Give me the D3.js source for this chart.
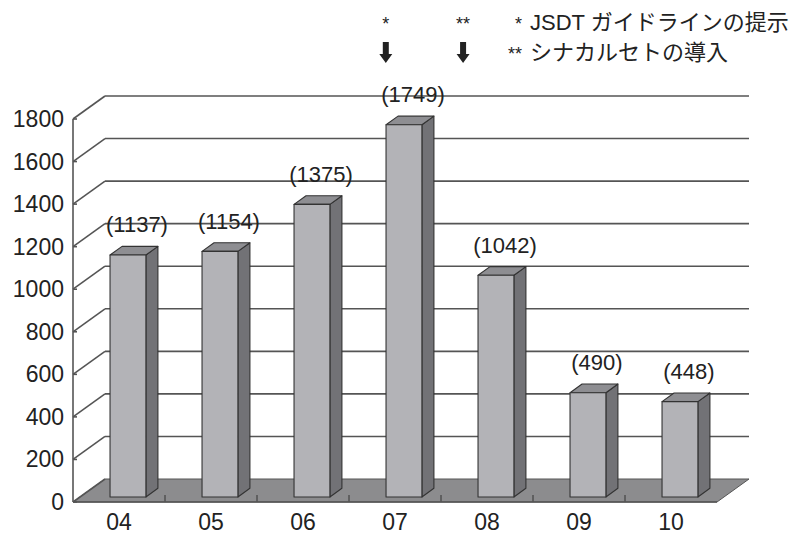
<!DOCTYPE html>
<html>
<head>
<meta charset="utf-8">
<script src="https://cdn.jsdelivr.net/npm/d3@7"></script>
<style>
  html, body { margin: 0; padding: 0; background: #fff; }
  svg { display: block; }
  text { fill: #222; font-family: "Liberation Sans", Arial, "Noto Sans CJK JP", sans-serif; }
</style>
</head>
<body>
<svg id="chart" width="790" height="534"></svg>
<script>
// Yearly counts (label values) per year
const years = ["04", "05", "06", "07", "08", "09", "10"];
const counts = [1137, 1154, 1375, 1749, 1042, 490, 448];
const yTicks = [0, 200, 400, 600, 800, 1000, 1200, 1400, 1600, 1800];
const notes = ["JSDT ガイドラインの提示", "シナカルセトの導入"];
const noteMarks = ["*", "**"];
const markedYears = ["07", "08"]; // years whose columns carry the * / ** arrows

const svg = d3.select("#chart");

// Front plane scales
const x = d3.scaleBand().domain(years).range([73, 717]).padding(0);
const y = d3.scaleLinear().domain([0, 1800]).range([502, 119]);

// Oblique depth projection (depth 0 = front plane, 1 = back wall)
const DX = 32, DY = -23;
const P = (px, py, d) => [px + DX * d, py + DY * d];

const gridColor = "#555";

// Floor
const floor = [P(x.range()[0], y(0), 0), P(x.range()[1], y(0), 0),
               P(x.range()[1], y(0), 1), P(x.range()[0], y(0), 1)];
svg.append("polygon")
  .attr("points", floor.map(p => p.join(",")).join(" "))
  .attr("fill", "#8c8c8e")
  .attr("stroke", "#555").attr("stroke-width", 1);

// Back-wall gridlines and left-wall diagonals
const g = svg.append("g").attr("stroke", gridColor).attr("stroke-width", 1.6).attr("fill", "none");
yTicks.forEach(v => {
  const a = P(x.range()[0], y(v), 0), b = P(x.range()[0], y(v), 1), c = P(x.range()[1], y(v), 1);
  g.append("line").attr("x1", a[0]).attr("y1", a[1]).attr("x2", b[0]).attr("y2", b[1]);
  if (v > 0) g.append("line").attr("x1", b[0]).attr("y1", b[1]).attr("x2", c[0]).attr("y2", c[1]);
  g.append("line").attr("x1", a[0]).attr("y1", a[1]).attr("x2", a[0] + 4).attr("y2", a[1]);
});
// Front vertical axis
g.append("line").attr("x1", x.range()[0]).attr("y1", y(1800)).attr("x2", x.range()[0]).attr("y2", y(0));
// Front horizontal axis with category ticks
g.append("line").attr("x1", x.range()[0]).attr("y1", y(0)).attr("x2", x.range()[1]).attr("y2", y(0));
years.slice(1).forEach(c => {
  g.append("line").attr("x1", x(c)).attr("y1", y(0)).attr("x2", x(c)).attr("y2", y(0) - 7);
});

// Y tick labels
svg.append("g").selectAll("text").data(yTicks).join("text")
  .attr("x", 64).attr("y", d => y(d) + 8)
  .attr("text-anchor", "end").attr("font-size", 23)
  .text(d => d);

// X tick labels
svg.append("g").selectAll("text").data(years).join("text")
  .attr("x", d => x(d) + x.bandwidth() / 2).attr("y", 530)
  .attr("text-anchor", "middle").attr("font-size", 23)
  .text(d => d);

// 3D columns
const d0 = 0.22, d1 = 0.595;               // depth of front and back faces
const bw = x.bandwidth();
const bars = years.map((c, i) => {
  const xl = x(c) + bw * 0.326, xr = xl + bw * 0.39;
  const yt = y(counts[i]), yb = y(0);
  return {
    c, v: counts[i],
    front: [P(xl, yt, d0), P(xr, yt, d0), P(xr, yb, d0), P(xl, yb, d0)],
    side: [P(xr, yt, d0), P(xr, yt, d1), P(xr, yb, d1), P(xr, yb, d0)],
    top: [P(xl, yt, d0), P(xl, yt, d1), P(xr, yt, d1), P(xr, yt, d0)],
    cx: (xl + xr) / 2 + DX * d0 + 9,
    backTop: P(xl, yt, d1)[1]
  };
});
const bg = svg.append("g").attr("stroke", "#333").attr("stroke-width", 1.1).attr("stroke-linejoin", "round");
const pts = a => a.map(p => p.join(",")).join(" ");
bars.forEach(b => {
  bg.append("polygon").attr("points", pts(b.side)).attr("fill", "#727276");
  bg.append("polygon").attr("points", pts(b.top)).attr("fill", "#8e8e92");
  bg.append("polygon").attr("points", pts(b.front)).attr("fill", "#b3b3b7");
});

// Value labels
svg.append("g").selectAll("text").data(bars).join("text")
  .attr("x", d => d.cx).attr("y", d => d.backTop - 14)
  .attr("text-anchor", "middle").attr("font-size", 22)
  .attr("word-spacing", 0)
  .text(d => "(" + d.v + ")");

// Event markers: asterisks and downward arrows above the marked columns
const arrowX = [x(markedYears[0]) + bw * 0.4, x(markedYears[1]) + bw * 0.24];
const ag = svg.append("g");
arrowX.forEach((ax, i) => {
  ag.append("text").attr("x", ax).attr("y", 30).attr("text-anchor", "middle")
    .attr("font-size", 18).text(noteMarks[i]);
  ag.append("path")
    .attr("d", d3.line()([[ax - 3, 42], [ax + 3, 42], [ax + 3, 54], [ax + 6.5, 54], [ax, 63],
                          [ax - 6.5, 54], [ax - 3, 54]]) + "Z")
    .attr("fill", "#222");
});

// Legend notes
const lg = svg.append("g");
notes.forEach((t, i) => {
  const by = 30 + i * 30;
  lg.append("text").attr("x", 522).attr("y", by).attr("text-anchor", "end")
    .attr("font-size", 18).text(noteMarks[i]);
  lg.append("text").attr("x", 530).attr("y", by).attr("font-size", 22).text(t);
});
</script>
</body>
</html>
